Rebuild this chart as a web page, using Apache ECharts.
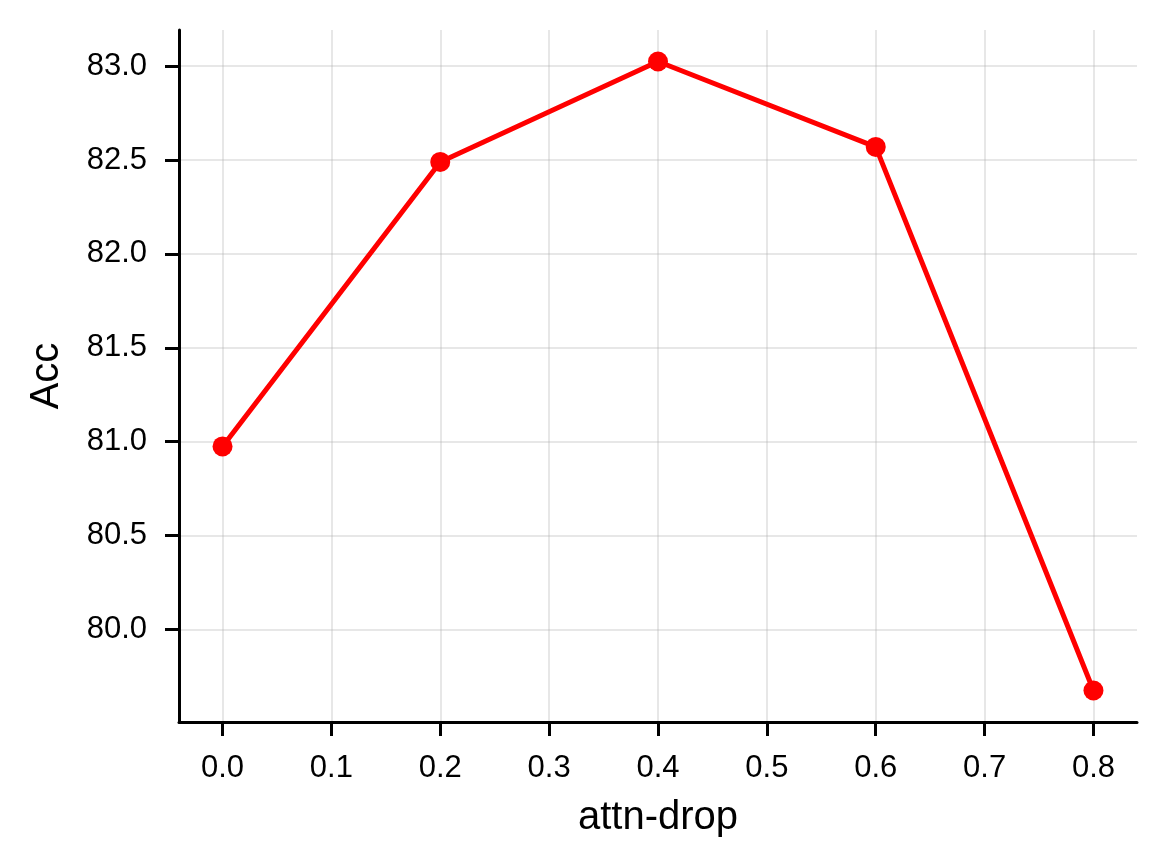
<!DOCTYPE html>
<html>
<head>
<meta charset="utf-8">
<script src="https://cdn.jsdelivr.net/npm/echarts@6/dist/echarts.min.js"></script>
<style>
html,body{margin:0;padding:0;background:#fff;}
#chart{width:1165px;height:867px;}
</style>
</head>
<body>
<div id="chart"></div>
<script>
var attnDrop = [0.0, 0.2, 0.4, 0.6, 0.8];
var acc = [80.975, 82.49, 83.025, 82.57, 79.675];
var xTicks = [0.0, 0.1, 0.2, 0.3, 0.4, 0.5, 0.6, 0.7, 0.8];
var yTicks = [80.0, 80.5, 81.0, 81.5, 82.0, 82.5, 83.0];

var FONT = '"Liberation Sans", Arial, sans-serif';
var chart = echarts.init(document.getElementById('chart'), null, {renderer: 'canvas'});
var gridLine = {show: true, lineStyle: {color: '#b0b0b0', opacity: 0.3, width: 2}};
chart.setOption({
  animation: false,
  backgroundColor: '#ffffff',
  grid: {left: 179, right: 28, top: 30, bottom: 145, containLabel: false},
  xAxis: {
    type: 'value',
    min: -0.04, max: 0.84,
    name: 'attn-drop', nameLocation: 'middle', nameGap: 76,
    nameTextStyle: {fontFamily: FONT, fontSize: 40, color: '#000'},
    axisLine: {show: true, onZero: false, lineStyle: {color: '#000', width: 3}},
    axisTick: {show: true, inside: false, length: 14, lineStyle: {color: '#000', width: 3}, customValues: xTicks},
    axisLabel: {fontFamily: FONT, fontSize: 31, color: '#000', margin: 31, customValues: xTicks,
      formatter: function (v) { return v.toFixed(1); }},
    splitLine: gridLine
  },
  yAxis: {
    type: 'value',
    min: 79.5075, max: 83.1925,
    name: 'Acc', nameLocation: 'middle', nameGap: 112, nameRotate: 90,
    nameTextStyle: {fontFamily: FONT, fontSize: 40, color: '#000'},
    axisLine: {show: true, onZero: false, lineStyle: {color: '#000', width: 3}},
    axisTick: {show: true, inside: false, length: 14, lineStyle: {color: '#000', width: 3}, customValues: yTicks},
    axisLabel: {fontFamily: FONT, fontSize: 31, color: '#000', margin: 32, customValues: yTicks,
      formatter: function (v) { return v.toFixed(1); }},
    splitLine: gridLine
  },
  series: [{
    type: 'line',
    data: attnDrop.map(function (x, i) { return [x, acc[i]]; }),
    symbol: 'circle',
    symbolSize: 20,
    lineStyle: {color: '#ff0000', width: 5},
    itemStyle: {color: '#ff0000'},
    z: 5
  }]
});
</script>
</body>
</html>
